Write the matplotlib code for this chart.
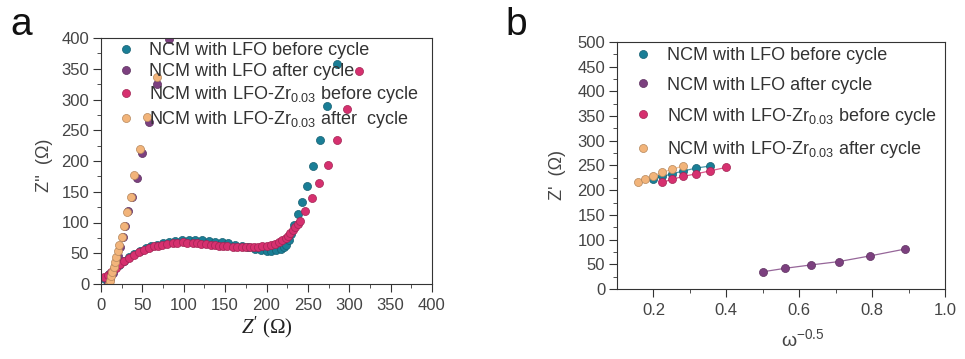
import matplotlib
matplotlib.use("Agg")
import matplotlib.pyplot as plt
import numpy as np

plt.rcParams['font.family'] = ['Liberation Sans', 'DejaVu Sans']
plt.rcParams['mathtext.fontset'] = 'custom'
plt.rcParams['mathtext.rm'] = 'Liberation Sans'
plt.rcParams['mathtext.it'] = 'Liberation Serif:italic'
plt.rcParams['mathtext.default'] = 'regular'

# ---------------- data ----------------
labels = ["NCM with LFO before cycle",
          "NCM with LFO after cycle",
          "NCM with LFO-Zr$_{0.03}$ before cycle",
          "NCM with LFO-Zr$_{0.03}$ after  cycle"]
labels_b = ["NCM with LFO before cycle",
            "NCM with LFO after cycle",
            "NCM with LFO-Zr$_{0.03}$ before cycle",
            "NCM with LFO-Zr$_{0.03}$ after cycle"]
colors = ["#1a7e96", "#7c407f", "#d6306f", "#f2b47a"]

# Panel a: Nyquist
a_blue_x = [5, 10, 16, 22, 28, 34, 40, 47, 54, 61, 68, 75, 82, 90, 98, 106, 114, 122,
            130, 138, 146, 154, 162, 170, 178, 186, 193, 200, 206, 212, 217, 221, 224,
            227, 230, 233, 238, 243, 248.4, 256.5, 264.5, 273, 284.6]
a_blue_y = [8, 16, 24, 31, 38, 44, 49, 54, 58, 61.5, 64, 66.5, 68.5, 70, 71, 72, 72, 71.5,
            70.5, 69, 67.5, 66, 64, 62, 59.5, 57, 55, 54, 54, 55, 57, 60, 64,
            71, 82, 96, 113.5, 134, 160, 192, 234, 289, 358]
a_purple_x = [8, 11, 14, 17, 20, 23, 26, 29, 33, 37, 43, 50, 57.5, 68, 82]
a_purple_y = [2, 8, 18, 30, 45, 60, 76, 95, 118, 141, 172, 213, 264, 326, 399]
a_pink_x = [4, 8, 12, 18, 23, 28, 34, 40, 46, 52, 58, 64, 69, 74, 80, 86.5, 92, 98.5, 104,
            110.6, 116, 120.6, 127, 132.7, 138, 142.7, 148, 152.8, 159, 164.9, 170, 175,
            180, 185, 190, 195, 200, 205, 210, 215, 219, 223, 226, 229, 232, 235, 238,
            241, 247, 254.5, 263, 274, 285, 296.7, 311.5]
a_pink_y = [12, 14, 20, 26, 32, 37, 42.5, 47.5, 52, 55.6, 58.5, 61, 62.5, 63.7, 65, 66.5, 67,
            67.5, 67, 66.5, 66, 65.4, 64.5, 63.7, 63, 62, 61.5, 61, 60.5, 60, 60, 60,
            60, 60, 60.5, 61, 62, 63.7, 65.5, 67.5, 71, 74.6, 78, 82.7, 87, 93.4, 98,
            103, 119.5, 139.5, 165, 193.5, 234, 284, 346.5]
a_orange_x = [10, 10.9, 12.1, 13.7, 15.3, 16.9, 18.5, 20.1, 22.1, 25, 28.1, 31.4, 36.2,
              40.2, 47.4, 55.5, 67.5]
a_orange_y = [0, 5.4, 12.4, 19.4, 27.5, 35, 43.7, 53, 63.7, 76, 94.5, 116.7, 142,
              177, 219.5, 272, 337]

# Panel b: Z' vs omega^-0.5
b_blue_x = [0.1995, 0.2239, 0.2512, 0.2818, 0.3162, 0.3548]
b_blue_y = [223, 228, 233, 239, 244.6, 249]
b_purple_x = [0.5012, 0.5623, 0.6310, 0.7079, 0.7943, 0.8913]
b_purple_y = [35, 42, 48.6, 55.4, 67, 81]
b_pink_x = [0.2239, 0.2512, 0.2818, 0.3162, 0.3548, 0.3981]
b_pink_y = [216, 222, 228, 233, 239, 246]
b_orange_x = [0.1585, 0.1778, 0.1995, 0.2239, 0.2512, 0.2818]
b_orange_y = [217, 223, 229, 236, 242.6, 249]

a_xticks = [0, 50, 100, 150, 200, 250, 300, 350, 400]
a_yticks = [0, 50, 100, 150, 200, 250, 300, 350, 400]
b_xticks = [0.2, 0.4, 0.6, 0.8, 1.0]
b_xticklabels = ["0.2", "0.4", "0.6", "0.8", "1.0"]
b_yticks = [0, 50, 100, 150, 200, 250, 300, 350, 400, 450, 500]

# ---------------- figure ----------------
fig = plt.figure(figsize=(9.65, 3.59), dpi=100)
axa = fig.add_axes([101/965, 1-284/359, 331/965, 246/359])
axb = fig.add_axes([617/965, 1-289/359, 328/965, 247/359])

def darker(c, f=0.75):
    rgb = np.array(matplotlib.colors.to_rgb(c))
    return tuple(rgb * f)

def lighter(c, f=0.35):
    rgb = np.array(matplotlib.colors.to_rgb(c))
    return tuple(rgb + (1 - rgb) * f)

ms = 5.8
series_a = [(a_blue_x, a_blue_y), (a_purple_x, a_purple_y),
            (a_pink_x, a_pink_y), (a_orange_x, a_orange_y)]
for (x, y), c, lab in zip(series_a, colors, labels):
    axa.plot(x, y, 'o', ms=ms, color=c, mec=darker(c), mew=0.5, label=lab)

series_b = [(b_blue_x, b_blue_y), (b_purple_x, b_purple_y),
            (b_pink_x, b_pink_y), (b_orange_x, b_orange_y)]
for (x, y), c, lab in zip(series_b, colors, labels_b):
    axb.plot(x, y, '-', lw=0.9, color=lighter(c, 0.2))
    axb.plot(x, y, 'o', ms=ms, color=c, mec=darker(c), mew=0.5, label=lab)

tick_color = "#444444"
for ax in (axa, axb):
    for s in ax.spines.values():
        s.set_color("#333333")
        s.set_linewidth(0.8)
    ax.tick_params(which='both', direction='out', colors="#333333",
                   labelcolor=tick_color, labelsize=12)
    ax.tick_params(which='major', length=5.5, width=0.8, pad=3)
    ax.tick_params(which='minor', length=3, width=0.6)
    ax.tick_params(axis='x', which='major', pad=4.5)

axa.set_xlim(0, 400)
axa.set_ylim(0, 400)
axa.set_xticks(a_xticks)
axa.set_yticks(a_yticks)
axa.set_xticks(np.arange(25, 400, 50), minor=True)
axa.set_yticks(np.arange(25, 400, 50), minor=True)
axa.set_xlabel(r"$\mathit{Z'}$ (Ω)", family='Liberation Serif', fontsize=15,
               color="#222222", labelpad=1)
axa.set_ylabel("Z''  (Ω)", fontsize=13, color="#444444")
axa.yaxis.set_label_coords(-0.145, 0.484)

axb.set_xlim(0.1, 1.0)
axb.set_ylim(0, 500)
axb.set_xticks(b_xticks)
axb.set_xticklabels(b_xticklabels)
axb.set_yticks(b_yticks)
axb.set_xticks([0.3, 0.5, 0.7, 0.9], minor=True)
axb.set_yticks(np.arange(25, 500, 50), minor=True)
axb.set_xlabel("ω$^{-0.5}$", fontsize=14, color="#444444")
axb.xaxis.set_label_coords(0.567, -0.16)
axb.set_ylabel("Z'  (Ω)", fontsize=13, color="#444444")
axb.yaxis.set_label_coords(-0.157, 0.46)

lega = axa.legend(loc='upper left', bbox_to_anchor=(-0.005, 1.035), frameon=False,
                  fontsize=13, handletextpad=0.55, labelspacing=0.22,
                  borderaxespad=0.3, handlelength=1.5)
legb = axb.legend(loc='upper left', bbox_to_anchor=(0.0, 1.03), frameon=False,
                  fontsize=13, handletextpad=0.55, labelspacing=0.68,
                  borderaxespad=0.3, handlelength=1.5)
for leg in (lega, legb):
    for t in leg.get_texts():
        t.set_color("#333333")

fig.text(10/965, 1-35/359, "a", fontsize=28, color="#111111")
fig.text(505/965, 1-35/359, "b", fontsize=28, color="#111111")

fig.savefig("out.png", dpi=100)
